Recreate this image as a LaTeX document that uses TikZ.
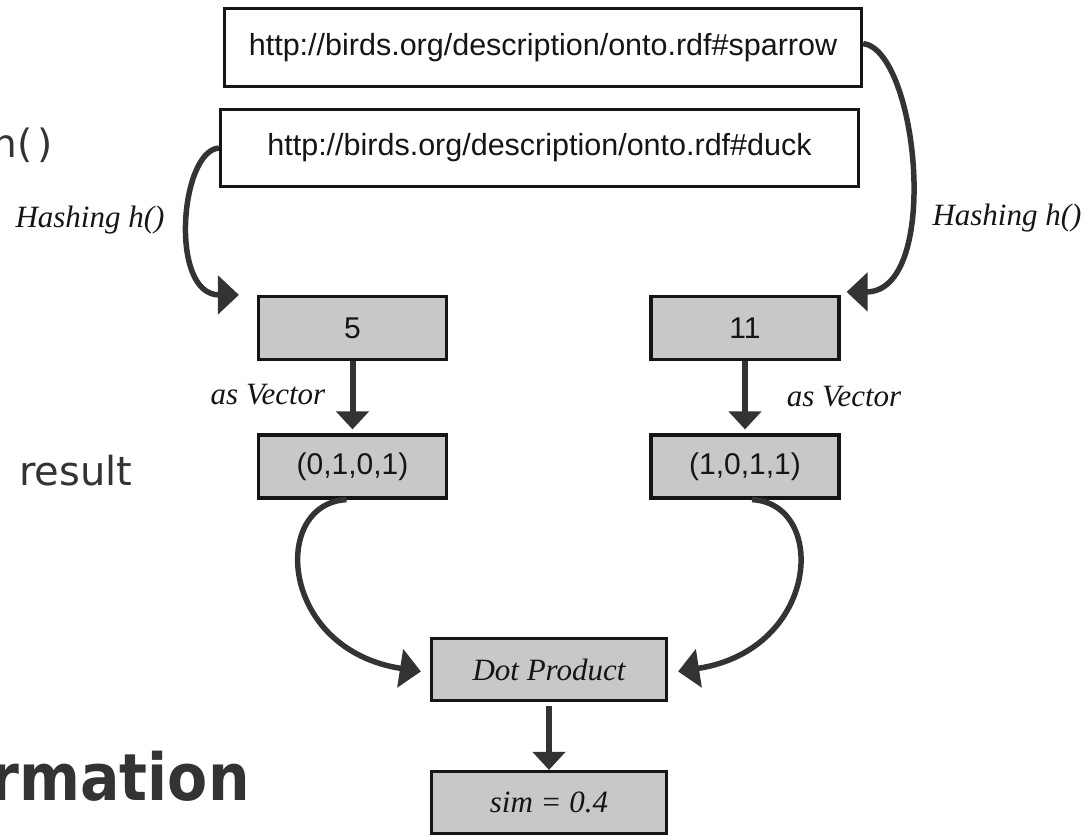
\documentclass[tikz,border=0pt]{standalone}
\usepackage{fontspec}
\usepackage{graphicx}
\setmainfont{Liberation Serif}
\newfontfamily\urlfont{Liberation Sans}
\newfontfamily\slidefont{DejaVu Sans}
\usetikzlibrary{arrows.meta}
\definecolor{boxgray}{HTML}{C8C8C8}
\definecolor{ink}{HTML}{333333}
\definecolor{edge}{HTML}{151515}

\begin{document}
\begin{tikzpicture}[x=1pt,y=-1pt,
  urlbox/.style={draw=edge, line width=3.2pt, fill=white, inner sep=0pt,
    font=\urlfont\fontsize{30.5}{36}\selectfont, text=edge},
  valbox/.style={urlbox, fill=boxgray, minimum width=188pt, minimum height=63pt,
    font=\urlfont\fontsize{30}{36}\selectfont},
  opbox/.style={urlbox, fill=boxgray, minimum width=235pt, minimum height=62pt,
    font=\itshape\fontsize{31}{36}\selectfont},
  flow/.style={draw=ink, line width=5.5pt, -{Triangle[length=21pt,width=38pt]}},
  drop/.style={draw=ink, line width=6pt, -{Triangle[length=18pt,width=32pt]}},
  lbl/.style={font=\itshape\fontsize{31}{36}\selectfont, text=edge, inner sep=0pt},
  slide/.style={text=ink, inner sep=0pt}]

% canvas
\useasboundingbox (0,0) rectangle (1086,838);
\fill[white] (0,0) rectangle (1086,838);
\clip (0,0) rectangle (1086,838);

% slide text behind the figure
\node[slide, anchor=base west, font=\slidefont\fontsize{39}{46}\selectfont] (sh) at (-7.5,157) {h(\kern5pt)};
\node[slide, anchor=base west, font=\slidefont\fontsize{40}{48}\selectfont] (sr) at (19,485) {result};
\node[slide, anchor=base east, font=\slidefont\bfseries\fontsize{65}{78}\selectfont] (sm) at (250,800) {\scalebox{0.9}[1]{rmation}};

% URIs
\node[urlbox, minimum width=637pt, minimum height=78pt] (sparrow) at (543,47.5) {http://birds.org/description/onto.rdf\#sparrow};
\node[urlbox, minimum width=638pt, minimum height=77pt] (duck) at (539.5,148) {http://birds.org/description/onto.rdf\#duck};

% hashes and vectors
\node[valbox] (h5) at (352.5,328) {5};
\node[valbox] (h11) at (745,328) {11};
\node[valbox] (v5) at (352.5,466.5) {(0,1,0,1)};
\node[valbox] (v11) at (745,466.5) {(1,0,1,1)};

% similarity
\node[opbox] (dot) at (549,669.5) {Dot Product};
\node[opbox] (sim) at (549,802.5) {sim = 0.4};

% hashing arcs
\draw[flow] (duck.west) .. controls +(-39,3) and +(-70,0) .. ([xshift=-18pt]h5.north west);
\draw[flow] ([yshift=4pt]sparrow.east) .. controls +(55,7) and +(95,0) .. ([xshift=6pt,yshift=3pt]h11.north east);

% vectorisation
\draw[drop, shorten >=4pt] (h5) -- (v5);
\draw[drop, shorten >=4pt] (h11) -- (v11);

% into the dot product
\draw[flow] ([xshift=-6pt]v5.south) .. controls +(-76,4) and +(-142,-22) .. ([xshift=-9pt,yshift=-2pt]dot.west);
\draw[flow] ([xshift=7pt]v11.south) .. controls +(76,4) and +(142,-22) .. ([xshift=10pt,yshift=-2pt]dot.east);
\draw[drop, shorten <=4pt] (dot) -- (sim);

% labels
\node[lbl] (hashL) at (90,220) {Hashing h()};
\node[lbl] (hashR) at (1007,218) {Hashing h()};
\node[lbl] (vecL) at (268,395) {as Vector};
\node[lbl] (vecR) at (844,397) {as Vector};
\end{tikzpicture}
\end{document}
